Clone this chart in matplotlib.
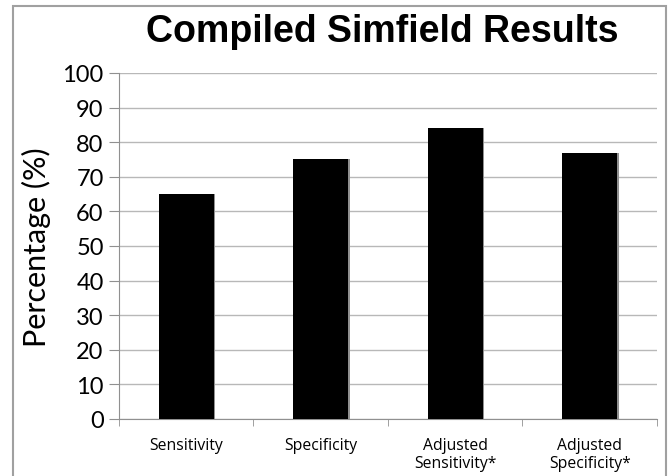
import matplotlib
matplotlib.use("Agg")
import matplotlib.pyplot as plt
from matplotlib.patches import Rectangle
import numpy as np

categories = ["Sensitivity", "Specificity", "Adjusted\nSensitivity*", "Adjusted\nSpecificity*"]
values = [65, 75, 84, 77]
yticks = list(range(0, 101, 10))

fig = plt.figure(figsize=(6.7, 4.77), dpi=100)
ax = fig.add_axes([0.1776, 0.1195, 0.803, 0.7254])

# outer chart frame
fig.patches.append(Rectangle((0.0194, -0.02), 0.9746, 1.0053, transform=fig.transFigure,
                             fill=False, edgecolor="#a0a0a0", linewidth=1.5))

x = np.arange(len(categories))
# slight shadow on the right edge, then the bars
ax.bar(x + 0.01, values, width=0.41, color="#909090", zorder=2)
ax.bar(x, values, width=0.41, color="black", zorder=3)

ax.set_xlim(-0.5, len(categories) - 0.5)
ax.set_ylim(0, 100)
ax.set_yticks(yticks)
ax.set_yticklabels([str(v) for v in yticks], fontfamily="Lato", fontsize=17)
ax.set_xticks(x)
ax.set_xticklabels(categories, fontfamily="Open Sans", fontsize=11.3, linespacing=1.15)
ax.set_xticks(np.arange(-0.5, len(categories)), minor=True)
ax.tick_params(axis="x", which="major", length=0, pad=13)
ax.tick_params(axis="x", which="minor", length=5, color="#909090")
ax.tick_params(axis="y", length=7, color="#909090", pad=4)

ax.yaxis.grid(True, color="#b8b8b8", linewidth=1, zorder=0)
for s in ["top", "right"]:
    ax.spines[s].set_visible(False)
ax.spines["left"].set_color("#909090")
ax.spines["bottom"].set_color("#909090")

ax.set_ylabel("Percentage (%)", fontfamily="Lato", fontsize=22, labelpad=8)
ax.set_title("Compiled Simfield Results", fontfamily="Liberation Sans", fontweight="bold",
             fontsize=27, pad=23, x=0.49)

fig.savefig("out.png", dpi=100)
